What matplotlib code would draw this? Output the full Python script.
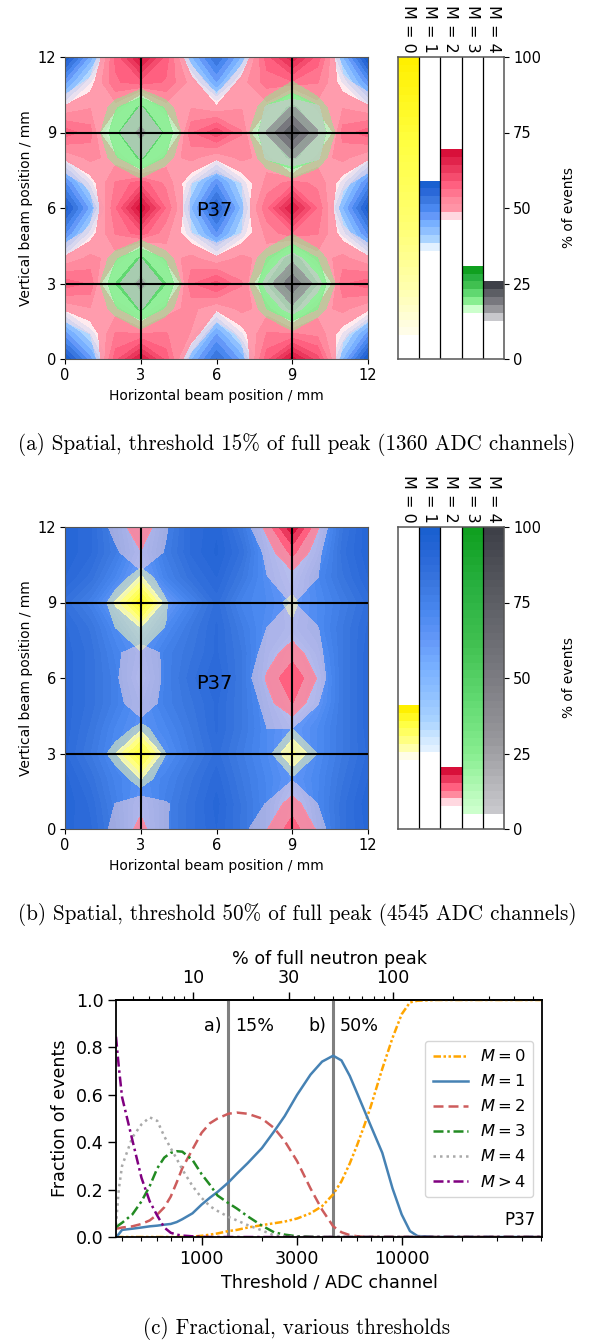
import numpy as np
import matplotlib
matplotlib.use("Agg")
import matplotlib.pyplot as plt
from matplotlib.colors import LinearSegmentedColormap
from matplotlib.ticker import LogLocator, NullFormatter

W, H = 594, 1343

# horizontal and vertical beam positions / mm
pos = list(range(13))

# panel a, % of events, rows run from y = 0 to y = 12
a_m1 = [
    [59, 47, 30, 18, 28, 43, 54, 45, 28, 16, 26, 43, 59],
    [47, 38, 24, 12, 20, 34, 46, 36, 22, 10, 20, 36, 47],
    [34, 26, 14, 6, 10, 20, 34, 22, 12, 5, 12, 24, 32],
    [24, 16, 8, 4, 6, 12, 20, 12, 6, 3, 8, 16, 24],
    [36, 24, 12, 6, 14, 26, 34, 26, 12, 6, 12, 24, 34],
    [49, 37, 22, 14, 26, 38, 48, 38, 24, 14, 22, 37, 49],
    [58, 45, 28, 18, 27, 43, 57, 42, 26, 16, 28, 43, 58],
    [49, 37, 20, 12, 24, 38, 48, 38, 24, 12, 22, 37, 49],
    [36, 24, 10, 5, 12, 24, 34, 24, 10, 4, 12, 24, 36],
    [22, 14, 6, 3, 5, 12, 20, 12, 5, 2, 6, 14, 22],
    [35, 24, 12, 5, 10, 20, 32, 22, 10, 4, 12, 24, 36],
    [47, 36, 24, 12, 22, 34, 46, 34, 20, 10, 22, 36, 48],
    [59, 45, 30, 18, 28, 43, 54, 43, 28, 16, 26, 43, 59],
]
a_m2 = [
    [40, 42, 58, 67, 58, 44, 40, 44, 58, 68, 60, 44, 40],
    [43, 46, 54, 54, 54, 51, 43, 47, 54, 54, 53, 47, 43],
    [49, 51, 50, 42, 50, 52, 49, 52, 50, 40, 50, 52, 49],
    [58, 56, 38, 30, 38, 56, 60, 54, 42, 28, 38, 56, 58],
    [49, 52, 50, 38, 50, 52, 49, 52, 50, 38, 50, 52, 49],
    [44, 47, 54, 58, 52, 46, 44, 46, 52, 56, 54, 47, 44],
    [38, 44, 56, 69, 56, 45, 38, 45, 56, 67, 56, 44, 38],
    [44, 47, 54, 58, 53, 46, 44, 46, 52, 55, 53, 47, 44],
    [49, 52, 50, 38, 50, 52, 49, 52, 50, 36, 50, 52, 49],
    [58, 55, 38, 30, 38, 56, 61, 54, 38, 26, 38, 55, 58],
    [49, 51, 50, 38, 50, 51, 49, 51, 50, 36, 50, 51, 49],
    [43, 47, 56, 58, 56, 50, 43, 50, 55, 56, 54, 47, 44],
    [40, 42, 57, 68, 58, 44, 40, 44, 58, 66, 58, 44, 40],
]
a_m3 = [
    [4, 5, 6, 8, 6, 5, 4, 5, 6, 8, 6, 5, 4],
    [5, 8, 10, 14, 10, 8, 5, 8, 10, 14.5, 10, 8, 5],
    [6, 10, 17.5, 21, 17.5, 10, 6, 10, 18, 21, 18, 10, 6],
    [7, 12, 20.5, 24, 20.5, 12, 7, 13, 20.5, 26, 20.5, 13, 7],
    [6, 10, 17.5, 21, 17.5, 10, 6, 11, 18, 21.5, 18, 10, 6],
    [5, 8, 10, 13, 10, 8, 5, 8, 11, 15, 11, 8, 5],
    [4, 5, 6, 7, 6, 5, 4, 5, 6, 8, 6, 5, 4],
    [5, 8, 10, 14, 10, 8, 5, 8, 11, 14, 11, 8, 5],
    [6, 10, 17.5, 21, 17.5, 10, 6, 10, 18.5, 21, 18.5, 10, 6],
    [7, 12, 20, 24, 20, 12, 7, 13, 20.5, 27, 20.5, 13, 7],
    [6, 10, 17.5, 21, 17.5, 10, 6, 10, 18.5, 21, 18.5, 10, 6],
    [5, 8, 10, 13, 10, 8, 5, 8, 11, 15.5, 11, 8, 5],
    [4, 5, 6, 8, 6, 5, 4, 5, 6, 9, 6, 5, 4],
]
a_m4 = [
    [1, 1, 2, 2, 2, 1, 1, 1, 2, 2, 2, 1, 1],
    [1, 2, 3, 5, 3, 2, 1, 2, 3, 6, 3, 2, 1],
    [2, 3, 8, 13, 8, 3, 2, 3, 10, 14.5, 10, 3, 2],
    [2, 5, 12, 16, 12, 5, 2, 6, 14, 20, 14, 6, 2],
    [2, 3, 8, 12.8, 8, 3, 2, 3, 10, 14.5, 10, 3, 2],
    [1, 2, 3, 5, 3, 2, 1, 2, 3, 6, 3, 2, 1],
    [1, 1, 2, 2, 2, 1, 1, 1, 2, 3, 2, 1, 1],
    [1, 2, 3, 5, 3, 2, 1, 2, 4, 7, 4, 2, 1],
    [2, 3, 8, 13, 8, 3, 2, 3, 13.5, 15.5, 13.5, 3, 2],
    [2, 5, 12, 16, 12, 5, 2, 7, 15.5, 23, 15.5, 7, 2],
    [2, 3, 8, 13, 8, 3, 2, 3, 13.5, 15.5, 13.5, 3, 2],
    [1, 2, 3, 5, 3, 2, 1, 2, 4, 7, 4, 2, 1],
    [1, 1, 2, 2, 2, 1, 1, 1, 2, 3, 2, 1, 1],
]

# panel b
b_m0 = [
    [8, 9, 10, 11, 10, 9, 8, 9, 10, 11, 10, 9, 8],
    [9, 11, 13, 18, 13, 11, 9, 11, 12, 16, 12, 11, 9],
    [10, 14, 20, 25.8, 20, 14, 10, 13, 18, 22.5, 18, 13, 10],
    [11, 18, 25.5, 36, 23, 15, 11, 15, 21.5, 29, 23, 15, 11],
    [10, 14, 20, 24.5, 20, 14, 10, 13, 18, 23, 18, 13, 10],
    [9, 11, 13, 17, 13, 11, 9, 10, 12, 15, 12, 10, 9],
    [8, 9, 10, 11, 10, 9, 8, 9, 10, 11, 10, 9, 8],
    [9, 11, 14, 22.8, 14, 11, 9, 10, 12, 15, 12, 10, 9],
    [10, 14, 23, 25.5, 22.8, 14, 10, 13, 17, 22, 17, 13, 10],
    [11, 17, 26, 38, 23.5, 15, 11, 15, 20, 24.8, 17, 13, 11],
    [10, 14, 20, 26, 20, 14, 10, 13, 16, 19, 16, 13, 10],
    [9, 11, 13, 18, 13, 11, 9, 10, 12, 14, 12, 10, 9],
    [8, 9, 10, 11, 10, 9, 8, 9, 10, 11, 10, 9, 8],
]
b_m1 = [
    [91, 88, 78, 62, 76, 84, 90, 82, 72, 50, 70, 84, 91],
    [92, 87, 76, 64, 76, 84, 91, 82, 72, 56, 72, 84, 92],
    [91, 84, 74, 68, 74, 82, 89, 80, 72, 64, 72, 82, 90],
    [88, 80, 70, 50, 68, 78, 86, 78, 70, 60, 70, 80, 88],
    [89, 82, 72, 66, 72, 80, 88, 80, 70, 62, 70, 80, 89],
    [89, 84, 76, 67, 76, 82, 88, 80, 68, 52, 64, 80, 89],
    [89, 84, 76, 62, 76, 84, 90, 80, 64, 48, 62, 80, 89],
    [89, 84, 74, 66, 76, 82, 88, 80, 66, 54, 66, 80, 89],
    [88, 82, 70, 56, 70, 80, 88, 78, 68, 64, 70, 80, 88],
    [84, 76, 60, 42, 60, 74, 86, 74, 70, 62, 70, 78, 86],
    [90, 84, 72, 58, 74, 84, 90, 80, 68, 58, 72, 82, 90],
    [92, 88, 78, 64, 78, 88, 93, 84, 66, 52, 66, 84, 92],
    [92, 88, 76, 60, 76, 88, 92, 80, 62, 44, 62, 82, 92],
]
b_m2 = [
    [1, 5.5, 8.3, 10.8, 7.9, 4, 1, 6.5, 10, 14, 9.7, 3, 1],
    [1, 4, 7.6, 9.5, 8, 4, 1, 4, 7.8, 11.5, 7.5, 3, 1],
    [1, 2, 2.5, 3, 2.5, 2, 1, 2, 3, 7.2, 3, 2, 1],
    [1, 1, 2, 2, 2, 1, 1, 1, 2, 3, 2, 1, 1],
    [1, 2, 3, 6.5, 3, 2, 1, 3, 7.5, 7.5, 5, 2, 1],
    [1, 3, 6.8, 8.8, 6.8, 3, 1, 4, 9, 12.8, 7.7, 3, 1],
    [1, 3, 7.2, 9.5, 7, 3, 1, 5.5, 10.5, 15, 9.9, 2.7, 1],
    [1, 3, 7, 9, 7, 3, 1, 5, 8.8, 11.5, 8.4, 4, 1],
    [1, 2, 3, 4.5, 3, 2, 1, 3, 7.5, 8.5, 7.7, 3, 1],
    [1, 1, 2, 2, 2, 1, 1, 2, 4, 7.8, 4, 2, 1],
    [1, 2, 3.5, 6.5, 3.5, 2, 1, 3, 7.4, 8.9, 7.6, 3, 1],
    [1, 3, 7, 10, 7.2, 3, 1, 3, 8.5, 13.5, 8.3, 3, 1],
    [1, 5, 8.5, 12, 7.8, 4, 1, 5.5, 11, 20, 10.5, 3, 1],
]

multiplicities = ["M = 0", "M = 1", "M = 2", "M = 3", "M = 4"]
# range of the colour bands in the bars, % of events
a_low = [8, 35.8, 46, 15.3, 12.7]
a_top = [100, 59.1, 69.4, 30.9, 25.8]
b_low = [23, 25.4, 7.5, 5, 5]
b_top = [41, 100, 20.5, 100, 100]
band = 2.5

# panel c
thresholds = [373, 385, 400, 450, 500, 550, 600, 650, 700, 750, 800, 900, 1000, 1100, 1200,
              1360, 1500, 1700, 2000, 2300, 2600, 3000, 3500, 4000, 4545, 5000, 5500, 6000,
              6500, 7000, 8000, 9000, 10000, 11000, 12000, 15000, 20000, 50000]
frac_m0 = [0, 0, 0, 0, 0, 0, 0, 0, 0, 0, 0, .002, .005, .01, .015, .025, .03, .04, .05, .058,
           .065, .078, .10, .13, .18, .235, .31, .39, .47, .55, .71, .84, .94, .99, .997, 1, 1, 1]
frac_m1 = [0, .012, .03, .035, .04, .045, .048, .052, .055, .063, .075, .10, .137, .166, .19, .23,
           .267, .312, .375, .445, .51, .60, .685, .74, .765, .745, .68, .605, .535, .47, .355, .205,
           .095, .025, .004, 0, 0, 0]
frac_m2 = [.035, .037, .04, .045, .055, .07, .095, .125, .17, .23, .29, .37, .44, .48, .50, .52,
           .525, .52, .50, .46, .405, .32, .205, .115, .045, .02, .008, .003, .001, 0, 0, 0, 0, 0,
           0, 0, 0, 0]
frac_m3 = [.042, .05, .06, .095, .15, .215, .29, .335, .355, .362, .36, .325, .265, .22, .175, .143,
           .12, .087, .048, .02, .01, .003, .001, 0, 0, 0, 0, 0, 0, 0, 0, 0, 0, 0, 0, 0, 0, 0]
frac_m4 = [.05, .2, .3, .42, .475, .505, .49, .425, .375, .33, .285, .215, .165, .13, .11, .085,
           .07, .05, .028, .007, .002, 0, 0, 0, 0, 0, 0, 0, 0, 0, 0, 0, 0, 0, 0, 0, 0, 0]
frac_gt4 = [.845, .72, .59, .41, .25, .15, .09, .04, .018, .01, .006, .003, .001, 0, 0, 0, 0, 0, 0,
            0, 0, 0, 0, 0, 0, 0, 0, 0, 0, 0, 0, 0, 0, 0, 0, 0, 0, 0]
adc_full_peak = 9067
marked_thresholds = [1360, 4545]

ramps = [
    LinearSegmentedColormap.from_list("m0", [(0, "#fffde8"), (.15, "#ffffb0"), (.4, "#ffff70"),
                                             (.7, "#ffff40"), (1, "#fff000")]),
    LinearSegmentedColormap.from_list("m1", [(0, "#e2f1ff"), (.125, "#aad4ff"), (.25, "#8fc0ff"),
                                             (.375, "#78b0ff"), (.5, "#6498f8"), (.625, "#4a88f0"),
                                             (.75, "#3b78e0"), (.875, "#2a68d8"), (1, "#1a60d0")]),
    LinearSegmentedColormap.from_list("m2", [(0, "#ffd8e0"), (.125, "#ff94a6"), (.25, "#ff8a9e"),
                                             (.5, "#ff6080"), (1, "#d8103a")]),
    LinearSegmentedColormap.from_list("m3", [(0, "#ccffcc"), (.2, "#88ee90"), (.4, "#60d870"),
                                             (.6, "#40c050"), (.8, "#28b040"), (1, "#10a020")]),
    LinearSegmentedColormap.from_list("m4", [(0, "#c8c8cc"), (.25, "#98989c"), (.5, "#78787e"),
                                             (.75, "#5c5e64"), (1, "#3e4048")]),
]


def box(x0, y0, x1, y1):
    return [x0 / W, 1 - y1 / H, (x1 - x0) / W, (y1 - y0) / H]


def band_levels(low, top):
    n = max(int(round((top - low) / band)), 1)
    return np.linspace(low, top, n + 1)


def band_colors(m, low, top):
    n = len(band_levels(low, top)) - 1
    return [ramps[m](k / (n - 1)) for k in range(n)]


def draw_map(y0, grids, lows, tops, text_y):
    ax = fig.add_axes(box(65, y0, 368, y0 + 302))
    for m, grid in grids:
        base = band_colors(m, lows[m], tops[m])
        cols = []
        for k, c in enumerate(base):
            if k == 0:
                # outermost band is see-through, so the overlap shows
                c = base[1] if m in (0, 1, 3) else c
                alpha = 0.7 if m == 4 else 0.5
            else:
                alpha = 0.92 if k == 1 else 1
            cols.append((c[0], c[1], c[2], alpha))
        ax.contourf(pos, pos, np.array(grid), levels=band_levels(lows[m], tops[m]), colors=cols)
    for v in [3, 9]:
        ax.axvline(v, color="black", lw=1.5)
        ax.axhline(v, color="black", lw=1.5)
    ax.set_xlim(0, 12)
    ax.set_ylim(0, 12)
    ax.set_xticks([0, 3, 6, 9, 12])
    ax.set_yticks([0, 3, 6, 9, 12])
    ax.tick_params(labelsize=10.5, length=3.5, width=0.8, pad=3)
    ax.set_xlabel("Horizontal beam position / mm", fontsize=10, labelpad=4)
    ax.set_ylabel("Vertical beam position / mm", fontsize=10, labelpad=3)
    ax.text(5.9, text_y, "P37", fontsize=14, ha="center", va="center")
    for s in ax.spines.values():
        s.set_color("#555555")


def draw_bars(y0, lows, tops):
    ax = fig.add_axes(box(398, y0, 504, y0 + 302))
    for m in range(5):
        levels = band_levels(lows[m], tops[m])
        cols = band_colors(m, lows[m], tops[m])
        ax.bar(m, np.diff(levels), bottom=levels[:-1], width=1, color=cols, linewidth=0)
        ax.text(m, 101.5, multiplicities[m], rotation=270, ha="center", va="bottom", fontsize=11.5)
    for m in range(1, 5):
        ax.axvline(m - 0.5, color="black", lw=0.9)
    ax.set_xlim(-0.5, 4.5)
    ax.set_ylim(0, 100)
    ax.set_xticks([])
    ax.set_yticks([0, 25, 50, 75, 100])
    ax.yaxis.tick_right()
    ax.yaxis.set_label_position("right")
    ax.tick_params(labelsize=10.5, length=3.5, width=0.8, pad=3)
    ax.set_ylabel("% of events", fontsize=9.8, labelpad=15)
    for s in ax.spines.values():
        s.set_color("#555555")
        s.set_linewidth(1.1)


fig = plt.figure(figsize=(W / 100, H / 100), dpi=100)

draw_map(57, [(1, a_m1), (2, a_m2), (3, a_m3), (4, a_m4)], a_low, a_top, 5.9)
draw_bars(57, a_low, a_top)
draw_map(527, [(1, b_m1), (2, b_m2), (0, b_m0)], b_low, b_top, 5.8)
draw_bars(527, b_low, b_top)

# fractions against threshold
ax = fig.add_axes(box(116, 1000, 542, 1237))
styles = [
    (frac_m0, "$M = 0$", "orange", (0, (3, 1, 1, 1, 1, 1))),
    (frac_m1, "$M = 1$", "steelblue", "-"),
    (frac_m2, "$M = 2$", "indianred", (0, (4, 2))),
    (frac_m3, "$M = 3$", "forestgreen", (0, (4, 1.5, 1, 1.5))),
    (frac_m4, "$M = 4$", "darkgrey", (0, (1, 1.6))),
    (frac_gt4, "$M > 4$", "purple", (0, (4, 1.5, 1, 1.5))),
]
for t in marked_thresholds:
    ax.axvline(t, color="gray", lw=2.2)
for vals, label, col, ls in styles:
    ax.plot(thresholds, vals, color=col, ls=ls, lw=1.8, label=label)
ax.set_xscale("log")
ax.set_xlim(373, 50300)
ax.set_ylim(0, 1)
ax.set_xticks([1000, 3000, 10000])
ax.set_xticklabels(["1000", "3000", "10000"])
ax.xaxis.set_minor_locator(LogLocator(base=10, subs=np.arange(2, 10), numticks=12))
ax.xaxis.set_minor_formatter(NullFormatter())
ax.tick_params(which="major", labelsize=12.6, length=6, width=1, pad=3)
ax.tick_params(which="minor", length=3, width=0.8)
ax.set_xlabel("Threshold / ADC channel", fontsize=12.6, labelpad=4)
ax.set_ylabel("Fraction of events", fontsize=12.6, labelpad=5)
for s in ax.spines.values():
    s.set_linewidth(1.3)
ax.text(1260, 0.89, "a)", fontsize=12.6, ha="right", va="center")
ax.text(1470, 0.89, "15%", fontsize=12.6, ha="left", va="center")
ax.text(4210, 0.89, "b)", fontsize=12.6, ha="right", va="center")
ax.text(4920, 0.89, "50%", fontsize=12.6, ha="left", va="center")
ax.text(0.985, 0.035, "P37", fontsize=12, transform=ax.transAxes, ha="right", va="bottom")
ax.legend(loc="center right", bbox_to_anchor=(0.979, 0.498), borderaxespad=0, fontsize=11.8,
          labelspacing=0.55, handlelength=2.15, handletextpad=0.75, borderpad=0.45)

top = ax.secondary_xaxis("top", functions=(lambda x: x / adc_full_peak * 100,
                                           lambda p: p * adc_full_peak / 100))
top.set_xscale("log")
top.set_xticks([10, 30, 100])
top.set_xticklabels(["10", "30", "100"])
top.xaxis.set_minor_locator(LogLocator(base=10, subs=np.arange(2, 10), numticks=12))
top.xaxis.set_minor_formatter(NullFormatter())
top.tick_params(which="major", labelsize=12.6, length=6, width=1, pad=3)
top.tick_params(which="minor", length=3, width=0.8)
top.set_xlabel("% of full neutron peak", fontsize=12.6, labelpad=4)
top.spines["top"].set_linewidth(1.3)

# captions
serif = ["cmr10", "DejaVu Serif"]
fig.text(297 / W, 1 - 444 / H, "(a) Spatial, threshold 15% of full peak (1360 ADC channels)",
         fontsize=15.2, family=serif, ha="center", va="center")
fig.text(297 / W, 1 - 914 / H, "(b) Spatial, threshold 50% of full peak (4545 ADC channels)",
         fontsize=15.2, family=serif, ha="center", va="center")
fig.text(297 / W, 1 - 1328 / H, "(c) Fractional, various thresholds",
         fontsize=15.2, family=serif, ha="center", va="center")

fig.savefig("out.png", dpi=100)
